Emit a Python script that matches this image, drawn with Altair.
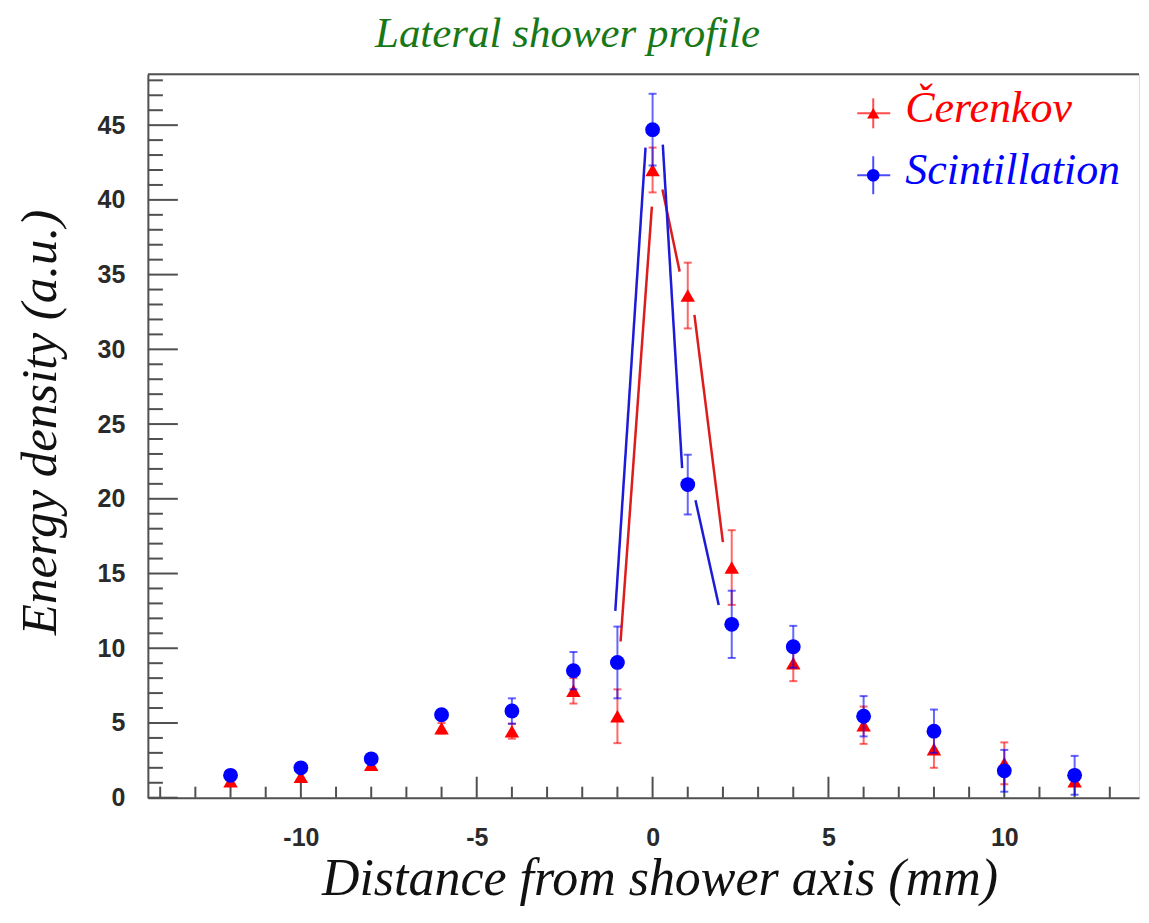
import altair as alt
import pandas as pd

# ---------------- data ----------------
x_pos = [-12, -10, -8, -6, -4, -2.25, -1, 0, 1, 2.25, 4, 6, 8, 10, 12]
scint = [1.5, 2.0, 2.6, 5.55, 5.8, 8.5, 9.05, 44.7, 20.95, 11.6, 10.1, 5.45, 4.45, 1.8, 1.5]
scint_err = [0.3, 0.3, 0.3, 0.35, 0.85, 1.25, 2.4, 2.4, 2.0, 2.25, 1.4, 1.35, 1.45, 1.4, 1.3]
cer = [1.1, 1.4, 2.2, 4.65, 4.45, 7.15, 5.45, 42.0, 33.6, 15.4, 9.0, 4.85, 3.25, 2.3, 1.1]
cer_err = [0.25, 0.25, 0.3, 0.35, 0.5, 0.85, 1.8, 1.5, 2.2, 2.5, 1.2, 1.25, 1.25, 1.4, 0.3]

# line segments drawn near the peak (start/end points)
blue_seg_x0 = [-1.06, 0.29, 1.22]
blue_seg_x1 = [-0.2, 0.84, 1.88]
blue_seg_y0 = [12.5, 43.7, 19.9]
blue_seg_y1 = [43.5, 22.05, 12.9]
red_seg_x0 = [-0.91, 0.28, 1.19]
red_seg_x1 = [-0.02, 0.77, 2.0]
red_seg_y0 = [10.45, 40.7, 32.3]
red_seg_y1 = [39.55, 35.2, 17.1]

x_major = [-10, -5, 0, 5, 10]
x_minor = [v for v in range(-14, 14) if v % 5 != 0]
y_major = [0, 5, 10, 15, 20, 25, 30, 35, 40, 45]
y_minor = [v for v in range(1, 49) if v % 5 != 0]

series_names = ["Čerenkov", "Scintillation"]
title_text = ["Lateral shower profile"]
x_title = "Distance from shower axis (mm)"
y_title = "Energy density (a.u.)"

# ---------------- layout ----------------
W, H = 992, 724
RED = "#ff0000"
BLUE = "#0000ff"
AXC = "#505050"
SERIF = "Liberation Serif"
SANS = "Liberation Sans"

xs = alt.Scale(domain=[-14.35, 13.83], nice=False, zero=False)
ys = alt.Scale(domain=[0, 48.4], nice=False, zero=False)

df_s = pd.DataFrame({"x": x_pos, "y": scint, "lo": [a - b for a, b in zip(scint, scint_err)],
                     "hi": [a + b for a, b in zip(scint, scint_err)]})
df_c = pd.DataFrame({"x": x_pos, "y": cer, "lo": [a - b for a, b in zip(cer, cer_err)],
                     "hi": [a + b for a, b in zip(cer, cer_err)]})
df_bs = pd.DataFrame({"x0": blue_seg_x0, "x1": blue_seg_x1, "y0": blue_seg_y0, "y1": blue_seg_y1})
df_rs = pd.DataFrame({"x0": red_seg_x0, "x1": red_seg_x1, "y0": red_seg_y0, "y1": red_seg_y1})

LABEL_EXPR = "'' + datum.value"

xaxis = alt.Axis(values=x_major, grid=False, ticks=False, tickSize=0, domain=True,
                 domainColor=AXC, domainWidth=2, labelFont=SANS, labelFontSize=25,
                 labelFontWeight="bold", labelExpr=LABEL_EXPR,
                 labelColor="#2a2a2a", labelPadding=28, title=x_title, titleFont=SERIF,
                 titleFontStyle="italic", titleFontWeight="normal", titleFontSize=52,
                 titleColor="#111111", titleX=512, titleY=97, titleAnchor="middle",
                 titleAlign="center", titleBaseline="alphabetic")
yaxis = alt.Axis(values=y_major, grid=False, ticks=False, tickSize=0, domain=True,
                 domainColor=AXC, domainWidth=2, labelFont=SANS, labelFontSize=25,
                 labelFontWeight="bold", labelExpr=LABEL_EXPR,
                 labelColor="#2a2a2a", labelPadding=23, title=y_title, titleFont=SERIF,
                 titleFontStyle="italic", titleFontWeight="normal", titleFontSize=51,
                 titleColor="#111111", titleX=-92, titleY=348, titleAngle=270,
                 titleAlign="center", titleBaseline="alphabetic")

# tick marks drawn inside the frame
xt_major = alt.Chart(pd.DataFrame({"v": x_major})).mark_rule(color=AXC, strokeWidth=2).encode(
    x=alt.X("v:Q", scale=xs, axis=xaxis), y=alt.value(H), y2=alt.value(H - 21))
xt_minor = alt.Chart(pd.DataFrame({"v": x_minor})).mark_rule(color=AXC, strokeWidth=2).encode(
    x=alt.X("v:Q", scale=xs), y=alt.value(H), y2=alt.value(H - 11))
yt_major = alt.Chart(pd.DataFrame({"v": y_major})).mark_rule(color=AXC, strokeWidth=2).encode(
    y=alt.Y("v:Q", scale=ys, axis=yaxis), x=alt.value(0), x2=alt.value(30))
yt_minor = alt.Chart(pd.DataFrame({"v": y_minor})).mark_rule(color=AXC, strokeWidth=2).encode(
    y=alt.Y("v:Q", scale=ys), x=alt.value(0), x2=alt.value(15))
top_frame = alt.Chart(pd.DataFrame({"v": [0]})).mark_rule(color=AXC, strokeWidth=2).encode(
    x=alt.value(0), x2=alt.value(W), y=alt.value(0))

# title as a text mark above the frame
title_mark = alt.Chart(pd.DataFrame({"t": title_text})).mark_text(
    align="center", baseline="alphabetic", font=SERIF, fontStyle="italic", fontSize=43,
    color="#187818").encode(x=alt.value(420), y=alt.value(-27), text="t:N")

# fitted-looking line segments
red_lines = alt.Chart(df_rs).mark_rule(color="#dd1c1c", strokeWidth=2.5).encode(
    x=alt.X("x0:Q", scale=xs), x2="x1:Q", y=alt.Y("y0:Q", scale=ys), y2="y1:Q")
blue_lines = alt.Chart(df_bs).mark_rule(color="#1c1cd8", strokeWidth=2.5).encode(
    x=alt.X("x0:Q", scale=xs), x2="x1:Q", y=alt.Y("y0:Q", scale=ys), y2="y1:Q")


def series_layers(df, color, shape, size):
    base = alt.Chart(df)
    bar = base.mark_rule(color=color, strokeWidth=2, opacity=0.6).encode(
        x=alt.X("x:Q", scale=xs), y=alt.Y("lo:Q", scale=ys), y2="hi:Q")
    cap_lo = base.mark_tick(color=color, orient="horizontal", size=8, thickness=2, opacity=0.6).encode(
        x=alt.X("x:Q", scale=xs), y=alt.Y("lo:Q", scale=ys))
    cap_hi = base.mark_tick(color=color, orient="horizontal", size=8, thickness=2, opacity=0.6).encode(
        x=alt.X("x:Q", scale=xs), y=alt.Y("hi:Q", scale=ys))
    pts = base.mark_point(shape=shape, filled=True, size=size, color=color, opacity=1).encode(
        x=alt.X("x:Q", scale=xs), y=alt.Y("y:Q", scale=ys))
    return [bar, cap_lo, cap_hi, pts]


red_layers = series_layers(df_c, RED, "triangle-up", 210)
blue_layers = series_layers(df_s, BLUE, "circle", 220)


# legend (drawn by hand, like the reference)
def legend_entry(name, color, shape, size, cy, vhalf):
    d = pd.DataFrame({"label": [name]})
    base = alt.Chart(d)
    hline = base.mark_rule(color=color, strokeWidth=2, opacity=0.7).encode(
        x=alt.value(710), x2=alt.value(743), y=alt.value(cy))
    vline = base.mark_rule(color=color, strokeWidth=2, opacity=0.7).encode(
        x=alt.value(726), y=alt.value(cy - vhalf), y2=alt.value(cy + vhalf))
    mk = base.mark_point(shape=shape, filled=True, size=size, color=color, opacity=1).encode(
        x=alt.value(726), y=alt.value(cy))
    txt = base.mark_text(align="left", baseline="alphabetic", font=SERIF, fontStyle="italic",
                         fontSize=44, color=color).encode(
        x=alt.value(758), y=alt.value(cy + 9), text="label:N")
    return [hline, vline, mk, txt]


leg = legend_entry(series_names[0], RED, "triangle-up", 150, 39, 15) + \
      legend_entry(series_names[1], BLUE, "circle", 160, 101, 19)

chart = alt.layer(
    xt_major, xt_minor, yt_major, yt_minor, top_frame, title_mark,
    red_lines, blue_lines, *red_layers, *blue_layers, *leg
).properties(
    width=W, height=H,
    autosize=alt.AutoSizeParams(type="none"),
    padding={"left": 140, "top": 66, "right": 2, "bottom": 120},
).configure_view(stroke=None).configure(background="white")

chart.save("out.html", embed_options={"renderer": "svg", "actions": False})
